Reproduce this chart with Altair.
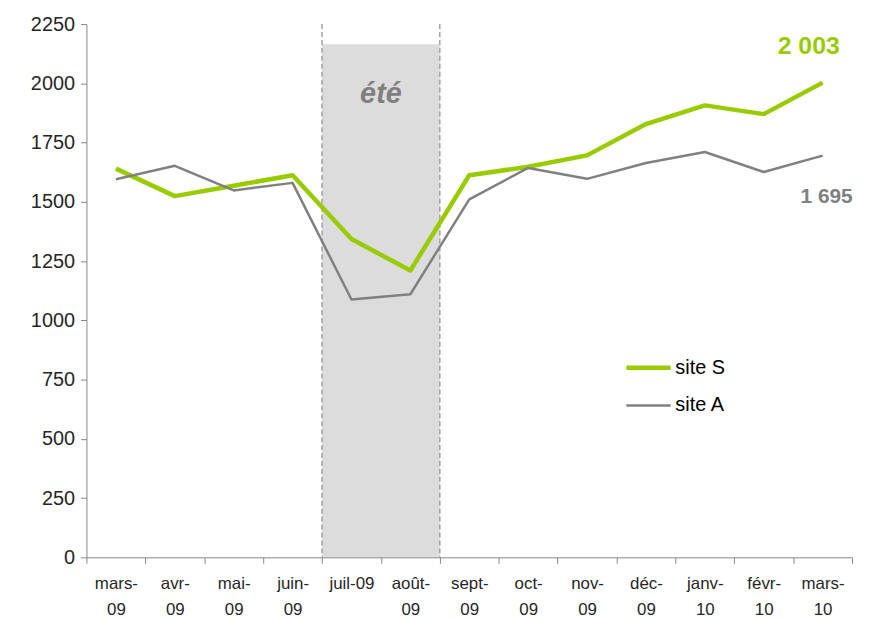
import altair as alt
import pandas as pd

months = ["mars-09", "avr-09", "mai-09", "juin-09", "juil-09", "août-09", "sept-09",
          "oct-09", "nov-09", "déc-09", "janv-10", "févr-10", "mars-10"]
site_s = [1640, 1524, 1568, 1612, 1343, 1210, 1612, 1648, 1696, 1828, 1907, 1870, 2003]
site_a = [1595, 1652, 1548, 1580, 1088, 1110, 1510, 1643, 1597, 1664, 1710, 1626, 1695]
series = ["site S", "site A"]
summer = ["juil-09", "août-09"]
summer_top = 2165
summer_label = "été"
summer_label_y = 1956
last_labels = ["2 003", "1 695"]

GREEN = "#99cc00"
GREY = "#808080"
FONT = "Liberation Sans"

rows = []
for i, m in enumerate(months):
    rows.append({"month": m, "serie": series[0], "value": site_s[i]})
    rows.append({"month": m, "serie": series[1], "value": site_a[i]})
df = pd.DataFrame(rows)

xscale = alt.Scale(domain=months, paddingInner=0, paddingOuter=0)
yscale = alt.Scale(domain=[0, 2250])

label_expr = ("!datum.value ? '' : datum.value == 'juil-09' ? datum.value : "
              "[split(datum.value, '-')[0] + '-', split(datum.value, '-')[1]]")

x_axis = alt.Axis(title=None, labelExpr=label_expr, labelAngle=0, tickBand="extent",
                  labelFont=FONT, labelFontSize=17, labelColor="#262626",
                  labelLineHeight=27, labelPadding=12, labelBaseline="top",
                  domainColor="#868686", tickColor="#868686", tickSize=6, grid=False)
y_axis = alt.Axis(title=None, values=list(range(0, 2251, 250)), format="d", labelFont=FONT,
                  labelFontSize=20, labelColor="#262626", labelPadding=6,
                  domainColor="#868686", tickColor="#868686", tickSize=6, grid=False)

summer_df = pd.DataFrame({"month": summer, "top": [summer_top] * 2, "bottom": [0, 0]})
band = alt.Chart(summer_df).mark_rect(color="#dcdcdc", opacity=1).encode(
    x=alt.X("month:N", scale=xscale, axis=x_axis, sort=months),
    y=alt.Y("top:Q", scale=yscale, axis=y_axis),
    y2="bottom:Q",
)

edges_df = pd.DataFrame({"month": summer, "pos": [0, 1]})
edge_left = alt.Chart(edges_df.iloc[[0]]).mark_rule(
    color="#a0a0a0", strokeWidth=1.5, strokeDash=[5, 3]).encode(
    x=alt.X("month:N", scale=xscale, bandPosition=0, sort=months),
    y=alt.value(0), y2=alt.value(537))
edge_right = alt.Chart(edges_df.iloc[[1]]).mark_rule(
    color="#a0a0a0", strokeWidth=1.5, strokeDash=[5, 3]).encode(
    x=alt.X("month:N", scale=xscale, bandPosition=1, sort=months),
    y=alt.value(0), y2=alt.value(537))

ete = alt.Chart(pd.DataFrame({"month": [summer[0]], "v": [summer_label_y], "t": [summer_label]})).mark_text(
    font=FONT, fontSize=29, fontWeight="bold", fontStyle="italic", color="#7f7f7f").encode(
    x=alt.X("month:N", scale=xscale, bandPosition=1, sort=months),
    y=alt.Y("v:Q", scale=yscale), text="t:N")

legend_cfg = dict(title=None, orient="none", legendX=541, legendY=321,
                  labelFont=FONT, labelFontSize=20, labelColor="#000000",
                  symbolType="stroke", symbolSize=2000, rowPadding=4, labelOffset=2)

lines = alt.Chart(df).mark_line(strokeJoin="round", strokeCap="butt").encode(
    x=alt.X("month:N", scale=xscale, sort=months),
    y=alt.Y("value:Q", scale=yscale),
    color=alt.Color("serie:N", scale=alt.Scale(domain=series, range=[GREEN, GREY]),
                    legend=alt.Legend(**legend_cfg)),
    strokeWidth=alt.StrokeWidth("serie:N", scale=alt.Scale(domain=series, range=[4.5, 2.5]),
                                legend=alt.Legend(**legend_cfg)),
)

last_s = pd.DataFrame({"month": [months[-1]], "value": [site_s[-1]], "t": [last_labels[0]]})
last_a = pd.DataFrame({"month": [months[-1]], "value": [site_a[-1]], "t": [last_labels[1]]})
lab_s = alt.Chart(last_s).mark_text(font=FONT, fontSize=25, fontWeight="bold", color=GREEN,
                                   dx=-14, dy=-37).encode(
    x=alt.X("month:N", scale=xscale, sort=months), y=alt.Y("value:Q", scale=yscale), text="t:N")
lab_a = alt.Chart(last_a).mark_text(font=FONT, fontSize=21, fontWeight="bold", color=GREY,
                                   dx=4, dy=42).encode(
    x=alt.X("month:N", scale=xscale, sort=months), y=alt.Y("value:Q", scale=yscale), text="t:N")

chart = alt.layer(band, edge_left, edge_right, ete, lines, lab_s, lab_a).properties(
    width=771, height=537,
    autosize=alt.AutoSizeParams(type="none"),
    padding={"left": 79, "top": 14, "right": 10, "bottom": 70},
    background="white",
).configure_view(stroke=None)

chart.save("out.html", embed_options={"renderer": "svg", "actions": False})
